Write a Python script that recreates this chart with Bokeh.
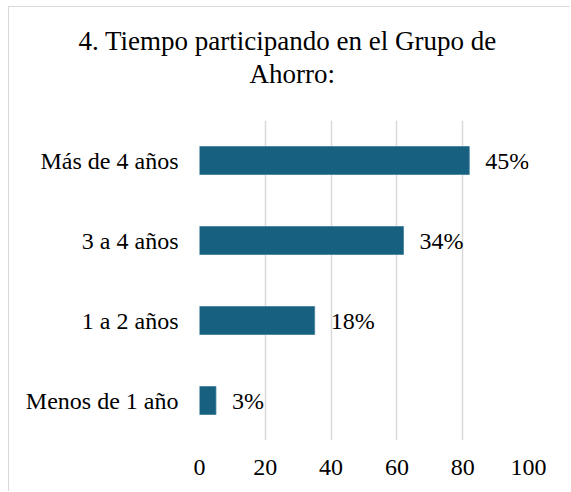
from bokeh.plotting import figure
from bokeh.models import ColumnDataSource, LabelSet, FactorRange, Range1d, FixedTicker, Title
from bokeh.embed import file_html
from bokeh.resources import INLINE

categories = ["Menos de 1 año", "1 a 2 años", "3 a 4 años", "Más de 4 años"]
values = [5, 35, 62, 82]
pct_labels = ["3%", "18%", "34%", "45%"]
x_ticks = [0, 20, 40, 60, 80, 100]
title_lines = ["4. Tiempo participando en el Grupo de", "Ahorro:"]

FONT = "Liberation Serif"
BAR = "#18607f"

src = ColumnDataSource(dict(cat=categories, val=values, lab=pct_labels))

p = figure(width=562, height=485, output_backend="svg", toolbar_location=None,
           y_range=FactorRange(factors=categories), x_range=Range1d(0, 100),
           min_border_left=190, min_border_right=43, min_border_top=113, min_border_bottom=52)
p.outline_line_color = None
p.styles = {"margin-left": "8px", "margin-top": "6px",
            "border-left": "1px solid #d9d9d9", "border-top": "1px solid #d9d9d9"}

p.hbar(y="cat", right="val", left=0, height=0.35, source=src,
       fill_color=BAR, line_color="#3d7d9c", line_width=0.8)

labels = LabelSet(x="val", y="cat", text="lab", source=src, x_offset=16,
                  text_baseline="middle", text_align="left",
                  text_font=FONT, text_font_size="24px", text_color="#000000")
p.add_layout(labels)

p.xaxis.ticker = FixedTicker(ticks=x_ticks)
p.xaxis.axis_line_color = None
p.xaxis.major_tick_line_color = None
p.xaxis.minor_tick_line_color = None
p.xaxis.major_label_text_font = FONT
p.xaxis.major_label_text_font_size = "24px"
p.xaxis.major_label_text_color = "#000000"
p.xaxis.major_label_standoff = 13

p.yaxis.axis_line_color = None
p.yaxis.major_tick_line_color = None
p.yaxis.minor_tick_line_color = None
p.yaxis.major_label_text_font = FONT
p.yaxis.major_label_text_font_size = "24px"
p.yaxis.major_label_text_color = "#000000"
p.yaxis.major_label_standoff = 15

p.ygrid.grid_line_color = None
p.xgrid.grid_line_color = "#d9d9d9"
p.xgrid.grid_line_width = 1.5

# spacer between the frame and the title block
p.add_layout(Title(text=" ", standoff=27, text_font_size="1px"), "above")
# second line (closer to the frame), then first line above it
p.add_layout(Title(text=title_lines[1], align="left", offset=50, standoff=3,
                   text_font=FONT, text_font_size="27px", text_font_style="normal",
                   text_color="#000000"), "above")
p.add_layout(Title(text=title_lines[0], align="left", offset=-121, standoff=0,
                   text_font=FONT, text_font_size="27px", text_font_style="normal",
                   text_color="#000000"), "above")

open("out.html", "w").write(file_html(p, INLINE))
